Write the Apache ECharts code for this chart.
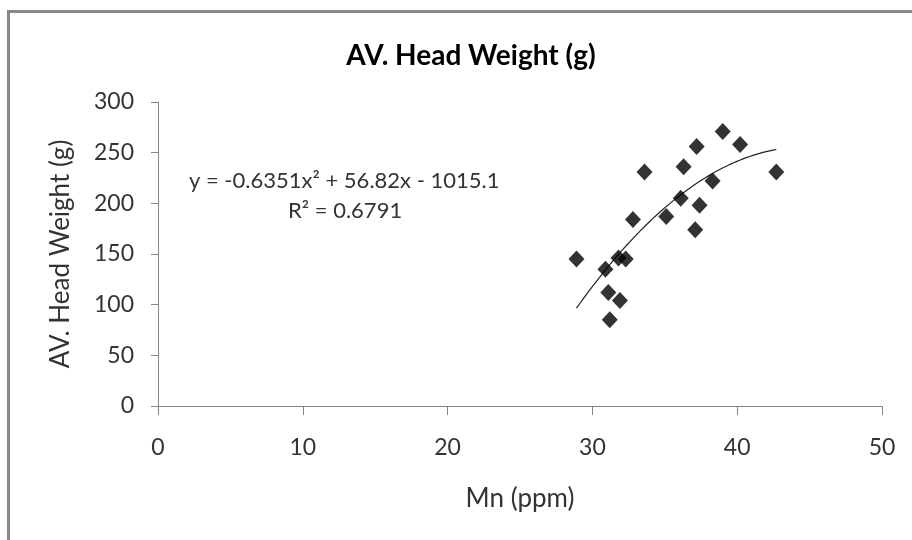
<!DOCTYPE html>
<html><head><meta charset="utf-8">
<script src="https://cdn.jsdelivr.net/npm/echarts@6/dist/echarts.min.js"></script>
<style>html,body{margin:0;padding:0;background:#fff}#c{width:912px;height:540px}</style>
</head><body><div id="c"></div>
<script>
// Data
const mnPpm = [28.9, 30.9, 31.8, 32.3, 31.1, 31.9, 31.2, 32.8, 33.6, 35.1, 36.1, 36.3, 37.2, 37.4, 37.1, 38.3, 39.0, 40.2, 42.7];
const headWeight = [145, 135, 146, 145, 112, 104, 85, 184, 231, 187, 205, 236, 256, 198, 174, 222, 271, 258, 231];
// Polynomial trendline printed on the chart: y = a x^2 + b x + c
const trendA = -0.6351, trendB = 56.82, trendC = -1015.1;
const xTicks = [0, 10, 20, 30, 40, 50];
const yTicks = [0, 50, 100, 150, 200, 250, 300];
const titleText = 'AV. Head Weight (g)';
const xName = 'Mn (ppm)';
const yName = 'AV. Head Weight (g)';
const eqText = 'y = -0.6351x² + 56.82x - 1015.1';
const r2Text = 'R² = 0.6791';

const points = mnPpm.map((x, i) => [x, headWeight[i]]);
const xMin = Math.min(...mnPpm), xMax = Math.max(...mnPpm);
const trend = [];
const steps = 60;
for (let i = 0; i <= steps; i++) {
  const x = xMin + (xMax - xMin) * i / steps;
  trend.push([x, trendA * x * x + trendB * x + trendC]);
}

const FONT = 'Lato';
const axisCol = '#868686';
const txtCol = '#333';
const chart = echarts.init(document.getElementById('c'), null, {renderer: 'canvas'});
chart.setOption({
  animation: false,
  backgroundColor: '#fff',
  title: {
    text: titleText, left: 466, top: 37, textAlign: 'center',
    textStyle: {fontFamily: FONT, fontWeight: 'bold', fontSize: 28, color: '#000'}
  },
  grid: {left: 158, right: 30, top: 102, bottom: 134, containLabel: false},
  xAxis: {
    type: 'value', min: 0, max: 50, interval: 10,
    name: xName, nameLocation: 'middle', nameGap: 80,
    nameTextStyle: {fontFamily: FONT, fontSize: 26, color: txtCol},
    axisLine: {show: true, lineStyle: {color: axisCol, width: 1}},
    axisTick: {show: true, length: 9, lineStyle: {color: axisCol}},
    axisLabel: {fontFamily: FONT, fontSize: 23, color: txtCol, margin: 30,
      formatter: v => xTicks.includes(v) ? String(v) : ''},
    splitLine: {show: false}
  },
  yAxis: {
    type: 'value', min: 0, max: 300, interval: 50,
    name: yName, nameLocation: 'middle', nameGap: 84, nameRotate: 90,
    nameTextStyle: {fontFamily: FONT, fontSize: 26, color: txtCol},
    axisLine: {show: true, lineStyle: {color: axisCol, width: 1}},
    axisTick: {show: true, length: 7, lineStyle: {color: axisCol}},
    axisLabel: {fontFamily: FONT, fontSize: 23, color: txtCol, margin: 24,
      formatter: v => yTicks.includes(v) ? String(v) : ''},
    splitLine: {show: false}
  },
  series: [
    {
      type: 'scatter', data: points, symbol: 'diamond', symbolSize: [16, 17],
      itemStyle: {color: '#000'}, z: 3
    },
    {
      type: 'line', data: trend, showSymbol: false, smooth: false,
      lineStyle: {color: '#222', width: 1.2}, z: 2
    }
  ],
  graphic: [
    {type: 'text', left: 189, top: 170, style: {text: eqText, fontFamily: FONT, fontSize: 22, fill: txtCol}},
    {type: 'text', left: 288, top: 200, style: {text: r2Text, fontFamily: FONT, fontSize: 22, fill: txtCol}},
    {type: 'line', shape: {x1: 8.5, y1: 11, x2: 8.5, y2: 540}, style: {stroke: '#888', lineWidth: 3}},
    {type: 'line', shape: {x1: 7, y1: 11.5, x2: 912, y2: 11.5}, style: {stroke: '#888', lineWidth: 3}}
  ]
});
</script></body></html>
